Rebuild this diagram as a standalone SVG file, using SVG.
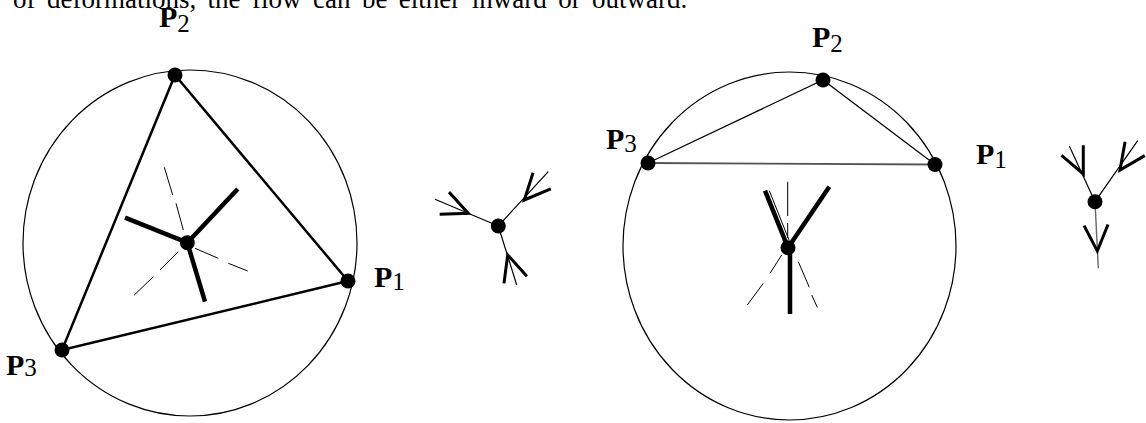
<svg xmlns="http://www.w3.org/2000/svg" xmlns:xlink="http://www.w3.org/1999/xlink" width="1146" height="423" viewBox="0 0 1146 423">
<style>
  .bg{fill:#fff}
  .circ{fill:none;stroke:#000;stroke-width:1.2}
  .tri{fill:none;stroke:#000;stroke-width:2.5;stroke-linecap:round}
  .tri2{fill:none;stroke:#000;stroke-width:1.2}
  .tri2g{fill:none;stroke:#555;stroke-width:1.8}
  .thick{fill:none;stroke:#000;stroke-width:4.5}
  .thin{fill:none;stroke:#000;stroke-width:1.2}
  .thing{fill:none;stroke:#666;stroke-width:1.4}
  .dash{fill:none;stroke:#000;stroke-width:1}
  .head{fill:none;stroke:#000;stroke-width:3}
  .dot{fill:#000}
  .P{font-family:"Liberation Serif","Times New Roman",serif;font-weight:bold;font-size:30px;fill:#000}
  .sub{font-family:"Liberation Serif","Times New Roman",serif;font-weight:normal;font-size:25px}
  .body{font-family:"Liberation Serif","Times New Roman",serif;font-size:27px;fill:#000;word-spacing:4.7px}
</style>
<defs>
  <path id="vhead" d="M-26,-12 L0,0 L-26,12"/>
</defs>
<rect class="bg" x="0" y="0" width="1146" height="423"/>
<text class="body" x="13" y="8">of deformations, the flow can be either inward or outward.</text>

<g id="left-figure">
  <ellipse class="circ" cx="190" cy="243" rx="167" ry="173"/>
  <g id="left-triangle">
    <path class="tri" d="M175,75 L348,281 L62,350 Z"/>
  </g>
  <g id="left-bisectors">
    <path class="dash" d="M164.3,167.3 L172.7,195 M176,203.3 L183.3,230 M195,248.3 L218.3,258.3 M228.3,263.3 L247.7,271 M178.3,251.7 L160,270 M153.3,276.7 L134.3,295"/>
  </g>
  <g id="left-flow">
    <path class="thick" d="M187.3,242.7 L125,217.7 M187.3,242.7 L237.7,189 M187.3,242.7 L205,301.7"/>
  </g>
  <circle id="left-center" class="dot" cx="187.3" cy="242.7" r="7.5"/>
  <g id="left-P2"><circle class="dot" cx="175" cy="75" r="7.5"/><text class="P" x="159" y="27">P<tspan class="sub" dy="5">2</tspan></text></g>
  <g id="left-P1"><circle class="dot" cx="348" cy="281" r="7.5"/><text class="P" x="374" y="287">P<tspan class="sub" dy="3">1</tspan></text></g>
  <g id="left-P3"><circle class="dot" cx="62" cy="350" r="7.5"/><text class="P" x="6" y="375">P<tspan class="sub" dy="1">3</tspan></text></g>
</g>

<g id="middle-figure">
  <g id="mid-lines">
    <path class="thin" d="M498.3,226 L435,199.3 M498.3,226 L548.3,171.7 M498.3,226 L516.7,285"/>
  </g>
  <g id="mid-heads">
    <use xlink:href="#vhead" href="#vhead" class="head" transform="translate(468.3,213.3) rotate(22.9)"/>
    <use xlink:href="#vhead" href="#vhead" class="head" transform="translate(524.3,200) rotate(132.6)"/>
    <use xlink:href="#vhead" href="#vhead" class="head" transform="translate(507.7,255) rotate(252.7)"/>
  </g>
  <circle id="mid-dot" class="dot" cx="498.3" cy="226" r="7.5"/>
</g>

<g id="right-figure">
  <ellipse class="circ" cx="789.5" cy="246" rx="166.5" ry="174"/>
  <g id="right-triangle">
    <path class="tri2" d="M648,163 L823,80 L935,164.5"/>
    <path class="tri2g" d="M648,163 L935,164.5"/>
  </g>
  <g id="right-bisectors">
    <path class="dash" d="M787.7,181.7 L787.7,216 M787.7,223 L787.7,238 M781.7,255 L770,273.3 M763.3,283.3 L747.3,305 M798.3,261.7 L809.3,287.3 M811.7,295 L817.3,307.3 M769.3,190.7 L789,240"/>
  </g>
  <g id="right-flow">
    <path class="thick" d="M788,247.7 L765,190.7 M788,247.7 L829.3,186.7 M790,247.7 L790,314"/>
  </g>
  <circle id="right-center" class="dot" cx="788" cy="247.7" r="7.5"/>
  <g id="right-P2"><circle class="dot" cx="823" cy="80" r="7.5"/><text class="P" x="812" y="47">P<tspan class="sub" dy="5">2</tspan></text></g>
  <g id="right-P3"><circle class="dot" cx="648" cy="163" r="7.5"/><text class="P" x="606" y="149">P<tspan class="sub" dy="3">3</tspan></text></g>
  <g id="right-P1"><circle class="dot" cx="935" cy="164.5" r="7.5"/><text class="P" x="976" y="164">P<tspan class="sub" dy="4">1</tspan></text></g>
</g>

<g id="small-figure">
  <g id="small-lines">
    <path class="thin" d="M1095,201.7 L1069.3,146 M1095,201.7 L1137.7,140.7"/>
    <path class="thing" d="M1095,201.7 L1098.3,268.3"/>
  </g>
  <g id="small-heads">
    <use xlink:href="#vhead" href="#vhead" class="head" transform="translate(1083.3,174) rotate(65.2)"/>
    <use xlink:href="#vhead" href="#vhead" class="head" transform="translate(1120,170) rotate(125)"/>
    <use xlink:href="#vhead" href="#vhead" class="head" transform="translate(1097.3,251) rotate(87.2)"/>
  </g>
  <circle id="small-dot" class="dot" cx="1095" cy="201.7" r="7.5"/>
</g>
</svg>
